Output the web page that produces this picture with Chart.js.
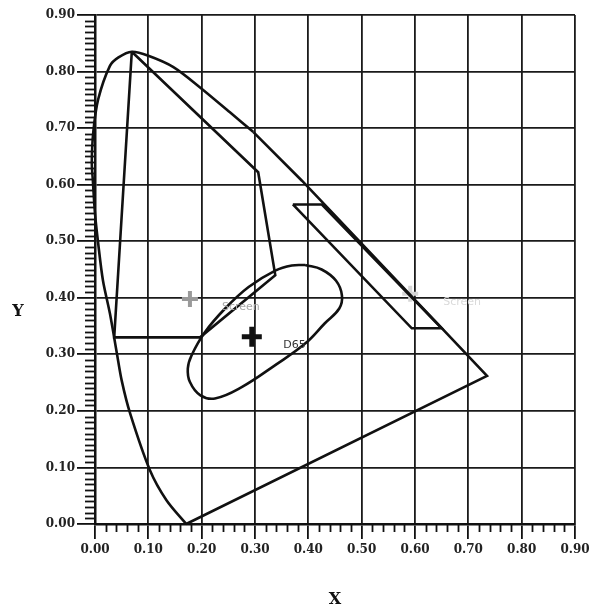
<!DOCTYPE html>
<html>
<head>
<meta charset="utf-8">
<script src="https://cdn.jsdelivr.net/npm/chart.js@4"></script>
<style>
  html, body { margin: 0; padding: 0; background: #fff; }
  #wrap { width: 597px; height: 611px; }
</style>
</head>
<body>
<div id="wrap"><canvas id="cie" width="597" height="611"></canvas></div>
<script>
// spectral locus, curved part (bottom, up the left side, over the top)
const locusX = [0.171, 0.134, 0.103, 0.066, 0.050, 0.041, 0.028, 0.015, 0.006, 0.000, -0.004, -0.006, -0.003, 0.006, 0.028, 0.044, 0.069, 0.100, 0.147, 0.197, 0.253, 0.297];
const locusY = [0.000, 0.042, 0.095, 0.195, 0.254, 0.302, 0.372, 0.430, 0.496, 0.549, 0.607, 0.640, 0.695, 0.751, 0.810, 0.825, 0.835, 0.828, 0.808, 0.772, 0.728, 0.693];

// straight part: down the right side and the purple line back
const edgeX = [0.297, 0.388, 0.735, 0.171];
const edgeY = [0.693, 0.607, 0.262, 0.000];

// inner gamut outline
const gamutX = [0.069, 0.036, 0.197, 0.338, 0.306, 0.069];
const gamutY = [0.835, 0.330, 0.330, 0.440, 0.622, 0.835];

// strip along the right edge
const stripX = [0.371, 0.425, 0.650, 0.594, 0.371];
const stripY = [0.565, 0.565, 0.346, 0.346, 0.565];

// ellipse around D65
const ellX = [0.394, 0.425, 0.452, 0.463, 0.458, 0.431, 0.394, 0.338, 0.275, 0.225, 0.197, 0.178, 0.174, 0.181, 0.206, 0.244, 0.288, 0.338, 0.369, 0.394];
const ellY = [0.458, 0.450, 0.430, 0.404, 0.381, 0.355, 0.319, 0.281, 0.242, 0.222, 0.228, 0.251, 0.275, 0.298, 0.339, 0.381, 0.419, 0.448, 0.457, 0.458];

// white points
const markNames = ["D65", "Screen", "Screen"];
const markX = [0.294, 0.178, 0.591];
const markY = [0.331, 0.398, 0.407];

const xTicks = [0, 0.1, 0.2, 0.3, 0.4, 0.5, 0.6, 0.7, 0.8, 0.9];
const yTicks = [0, 0.1, 0.2, 0.3, 0.4, 0.5, 0.6, 0.7, 0.8, 0.9];

const pts = (xs, ys) => xs.map((x, i) => ({ x, y: ys[i] }));

const lineSet = (xs, ys, extra) => Object.assign({
  data: pts(xs, ys),
  showLine: true,
  borderColor: "#111",
  borderWidth: 2.6,
  pointRadius: 0,
  fill: false,
  tension: 0,
  clip: 6,
}, extra || {});

const markColors = ["#111", "#9a9a9a", "#d6d6d6"];
const markSizes = [10, 8, 8];
const markWidths = [5, 4, 4];
const labelColors = ["#333", "#a8a8a8", "#dadada"];
const labelDx = [0.059, 0.060, 0.062];
const labelDy = [-0.015, -0.015, -0.015];

const axisFont = { family: "DejaVu Serif", size: 12, weight: "bold" };

const extras = {
  id: "extras",
  afterDraw(chart) {
    const { ctx, scales, chartArea } = chart;
    const xs = scales.x, ys = scales.y;
    ctx.save();
    ctx.strokeStyle = "#111";
    ctx.lineWidth = 1.8;
    // minor ticks on y
    for (let i = 1; i < 90; i++) {
      if (i % 10 === 0) continue;
      const py = Math.round(ys.getPixelForValue(i / 100)) + 0.5;
      ctx.beginPath();
      ctx.moveTo(chartArea.left - 10, py);
      ctx.lineTo(chartArea.left, py);
      ctx.stroke();
    }
    // minor ticks on x
    for (let i = 1; i < 45; i++) {
      if (i % 5 === 0) continue;
      const px = Math.round(xs.getPixelForValue(i / 50)) + 0.5;
      ctx.beginPath();
      ctx.moveTo(px, chartArea.bottom);
      ctx.lineTo(px, chartArea.bottom + 8);
      ctx.stroke();
    }
    // point labels
    ctx.font = "11px 'DejaVu Sans'";
    ctx.textBaseline = "middle";
    ctx.textAlign = "left";
    markNames.forEach((name, i) => {
      ctx.fillStyle = labelColors[i];
      ctx.fillText(name, xs.getPixelForValue(markX[i] + labelDx[i]), ys.getPixelForValue(markY[i] + labelDy[i]));
    });
    // axis titles
    ctx.fillStyle = "#111";
    ctx.font = "bold 16px 'DejaVu Serif'";
    ctx.textAlign = "center";
    ctx.fillText("Y", 18, 312);
    ctx.fillText("X", (chartArea.left + chartArea.right) / 2, 600);
    ctx.restore();
  },
};

new Chart(document.getElementById("cie"), {
  type: "scatter",
  data: {
    datasets: [
      lineSet(locusX, locusY, { tension: 0.3 }),
      lineSet(edgeX, edgeY),
      lineSet(gamutX, gamutY),
      lineSet(stripX, stripY),
      lineSet(ellX, ellY, { tension: 0.4 }),
      {
        data: pts(markX, markY),
        showLine: false,
        pointStyle: "cross",
        pointRadius: markSizes,
        pointBorderWidth: markWidths,
        pointBorderColor: markColors,
        pointBackgroundColor: markColors,
        pointHoverRadius: markSizes,
      },
    ],
  },
  options: {
    responsive: false,
    animation: false,
    events: [],
    layout: { padding: { top: 14, right: 22, left: 0, bottom: 0 } },
    plugins: { legend: { display: false }, tooltip: { enabled: false } },
    scales: {
      x: {
        type: "linear",
        min: 0,
        max: 0.9,
        afterBuildTicks: (s) => { s.ticks = xTicks.map((v) => ({ value: v })); },
        afterFit: (s) => { s.height = 87; },
        ticks: {
          font: axisFont,
          color: "#222",
          padding: 4,
          maxRotation: 0,
          callback: (v) => Number(v).toFixed(2),
        },
        grid: { color: "#1a1a1a", lineWidth: 1.8, tickLength: 15, tickColor: "#111" },
        border: { color: "#111", width: 2.5 },
      },
      y: {
        type: "linear",
        min: 0,
        max: 0.9,
        afterBuildTicks: (s) => { s.ticks = yTicks.map((v) => ({ value: v })); },
        afterFit: (s) => { s.width = 95; },
        ticks: {
          font: axisFont,
          color: "#222",
          padding: 2,
          callback: (v) => Number(v).toFixed(2),
        },
        grid: { color: "#1a1a1a", lineWidth: 1.8, tickLength: 18, tickColor: "#111" },
        border: { color: "#111", width: 2.5 },
      },
    },
  },
  plugins: [extras],
});
</script>
</body>
</html>
